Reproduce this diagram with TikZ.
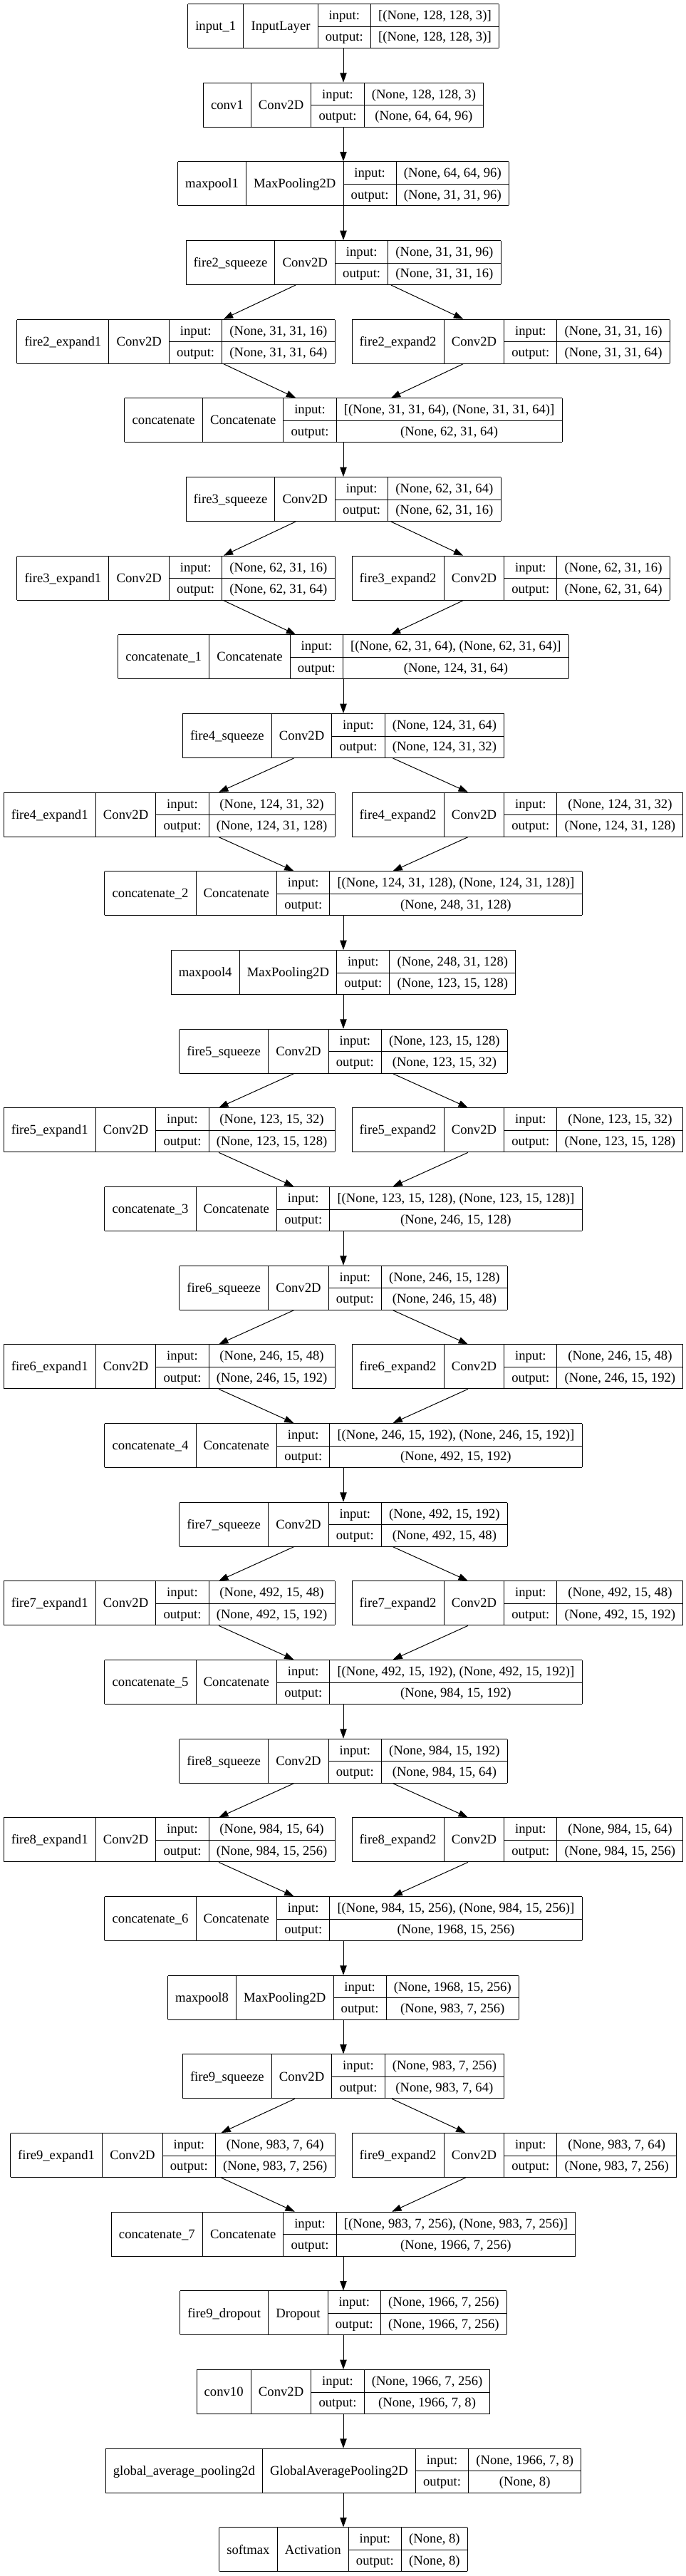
\documentclass[tikz,border=0pt]{standalone}
\usepackage{fontspec}
\setmainfont{Liberation Serif}
\usepackage{multirow}
\usetikzlibrary{arrows.meta,positioning}
\setlength{\tabcolsep}{8pt}
\setlength{\arrayrulewidth}{0.75pt}
% one record: name | class | input:/output: | shapes
\newcommand{\rec}[4]{\begin{tabular}{|c|c|c|c|}\hline
\multirow{2}{*}{#1} & \multirow{2}{*}{#2} & input: & #3\\ \cline{3-4}
 & & output: & #4\\ \hline
\end{tabular}}
\tikzstyle{layer} = [inner sep=0pt, outer sep=0pt, font=\fontsize{14}{22.875}\selectfont]
\tikzstyle{arrow} = [->, >={Triangle[length=10pt,width=7pt]}, line width=0.75pt]

\begin{document}
\begin{tikzpicture}[x=1pt, y=-1pt, node distance=83pt]
\useasboundingbox (0,0) rectangle (722.25,2711.25);
% Stem
\node (input_1) [layer] at (361.5,27.4) {\rec{input\_1}{InputLayer}{[(None, 128, 128, 3)]}{[(None, 128, 128, 3)]}};
\node (conv1) [layer, below of=input_1] {\rec{conv1}{Conv2D}{(None, 128, 128, 3)}{(None, 64, 64, 96)}};
\node (maxpool1) [layer, below of=conv1] {\rec{maxpool1}{MaxPooling2D}{(None, 64, 64, 96)}{(None, 31, 31, 96)}};

% Fire 2
\node (fire2_squeeze) [layer, below of=maxpool1] {\rec{fire2\_squeeze}{Conv2D}{(None, 31, 31, 96)}{(None, 31, 31, 16)}};
\node (fire2_expand1) [layer, below of=fire2_squeeze, xshift=-9pt, anchor=east] {\rec{fire2\_expand1}{Conv2D}{(None, 31, 31, 16)}{(None, 31, 31, 64)}};
\node (fire2_expand2) [layer, below of=fire2_squeeze, xshift=9pt, anchor=west] {\rec{fire2\_expand2}{Conv2D}{(None, 31, 31, 16)}{(None, 31, 31, 64)}};
\node (concatenate) [layer, below of=fire2_squeeze, yshift=-83pt] {\rec{concatenate}{Concatenate}{[(None, 31, 31, 64), (None, 31, 31, 64)]}{(None, 62, 31, 64)}};

% Fire 3
\node (fire3_squeeze) [layer, below of=concatenate] {\rec{fire3\_squeeze}{Conv2D}{(None, 62, 31, 64)}{(None, 62, 31, 16)}};
\node (fire3_expand1) [layer, below of=fire3_squeeze, xshift=-9pt, anchor=east] {\rec{fire3\_expand1}{Conv2D}{(None, 62, 31, 16)}{(None, 62, 31, 64)}};
\node (fire3_expand2) [layer, below of=fire3_squeeze, xshift=9pt, anchor=west] {\rec{fire3\_expand2}{Conv2D}{(None, 62, 31, 16)}{(None, 62, 31, 64)}};
\node (concatenate_1) [layer, below of=fire3_squeeze, yshift=-83pt] {\rec{concatenate\_1}{Concatenate}{[(None, 62, 31, 64), (None, 62, 31, 64)]}{(None, 124, 31, 64)}};

% Fire 4
\node (fire4_squeeze) [layer, below of=concatenate_1] {\rec{fire4\_squeeze}{Conv2D}{(None, 124, 31, 64)}{(None, 124, 31, 32)}};
\node (fire4_expand1) [layer, below of=fire4_squeeze, xshift=-9pt, anchor=east] {\rec{fire4\_expand1}{Conv2D}{(None, 124, 31, 32)}{(None, 124, 31, 128)}};
\node (fire4_expand2) [layer, below of=fire4_squeeze, xshift=9pt, anchor=west] {\rec{fire4\_expand2}{Conv2D}{(None, 124, 31, 32)}{(None, 124, 31, 128)}};
\node (concatenate_2) [layer, below of=fire4_squeeze, yshift=-83pt] {\rec{concatenate\_2}{Concatenate}{[(None, 124, 31, 128), (None, 124, 31, 128)]}{(None, 248, 31, 128)}};
\node (maxpool4) [layer, below of=concatenate_2] {\rec{maxpool4}{MaxPooling2D}{(None, 248, 31, 128)}{(None, 123, 15, 128)}};

% Fire 5
\node (fire5_squeeze) [layer, below of=maxpool4] {\rec{fire5\_squeeze}{Conv2D}{(None, 123, 15, 128)}{(None, 123, 15, 32)}};
\node (fire5_expand1) [layer, below of=fire5_squeeze, xshift=-9pt, anchor=east] {\rec{fire5\_expand1}{Conv2D}{(None, 123, 15, 32)}{(None, 123, 15, 128)}};
\node (fire5_expand2) [layer, below of=fire5_squeeze, xshift=9pt, anchor=west] {\rec{fire5\_expand2}{Conv2D}{(None, 123, 15, 32)}{(None, 123, 15, 128)}};
\node (concatenate_3) [layer, below of=fire5_squeeze, yshift=-83pt] {\rec{concatenate\_3}{Concatenate}{[(None, 123, 15, 128), (None, 123, 15, 128)]}{(None, 246, 15, 128)}};

% Fire 6
\node (fire6_squeeze) [layer, below of=concatenate_3] {\rec{fire6\_squeeze}{Conv2D}{(None, 246, 15, 128)}{(None, 246, 15, 48)}};
\node (fire6_expand1) [layer, below of=fire6_squeeze, xshift=-9pt, anchor=east] {\rec{fire6\_expand1}{Conv2D}{(None, 246, 15, 48)}{(None, 246, 15, 192)}};
\node (fire6_expand2) [layer, below of=fire6_squeeze, xshift=9pt, anchor=west] {\rec{fire6\_expand2}{Conv2D}{(None, 246, 15, 48)}{(None, 246, 15, 192)}};
\node (concatenate_4) [layer, below of=fire6_squeeze, yshift=-83pt] {\rec{concatenate\_4}{Concatenate}{[(None, 246, 15, 192), (None, 246, 15, 192)]}{(None, 492, 15, 192)}};

% Fire 7
\node (fire7_squeeze) [layer, below of=concatenate_4] {\rec{fire7\_squeeze}{Conv2D}{(None, 492, 15, 192)}{(None, 492, 15, 48)}};
\node (fire7_expand1) [layer, below of=fire7_squeeze, xshift=-9pt, anchor=east] {\rec{fire7\_expand1}{Conv2D}{(None, 492, 15, 48)}{(None, 492, 15, 192)}};
\node (fire7_expand2) [layer, below of=fire7_squeeze, xshift=9pt, anchor=west] {\rec{fire7\_expand2}{Conv2D}{(None, 492, 15, 48)}{(None, 492, 15, 192)}};
\node (concatenate_5) [layer, below of=fire7_squeeze, yshift=-83pt] {\rec{concatenate\_5}{Concatenate}{[(None, 492, 15, 192), (None, 492, 15, 192)]}{(None, 984, 15, 192)}};

% Fire 8
\node (fire8_squeeze) [layer, below of=concatenate_5] {\rec{fire8\_squeeze}{Conv2D}{(None, 984, 15, 192)}{(None, 984, 15, 64)}};
\node (fire8_expand1) [layer, below of=fire8_squeeze, xshift=-9pt, anchor=east] {\rec{fire8\_expand1}{Conv2D}{(None, 984, 15, 64)}{(None, 984, 15, 256)}};
\node (fire8_expand2) [layer, below of=fire8_squeeze, xshift=9pt, anchor=west] {\rec{fire8\_expand2}{Conv2D}{(None, 984, 15, 64)}{(None, 984, 15, 256)}};
\node (concatenate_6) [layer, below of=fire8_squeeze, yshift=-83pt] {\rec{concatenate\_6}{Concatenate}{[(None, 984, 15, 256), (None, 984, 15, 256)]}{(None, 1968, 15, 256)}};
\node (maxpool8) [layer, below of=concatenate_6] {\rec{maxpool8}{MaxPooling2D}{(None, 1968, 15, 256)}{(None, 983, 7, 256)}};

% Fire 9
\node (fire9_squeeze) [layer, below of=maxpool8] {\rec{fire9\_squeeze}{Conv2D}{(None, 983, 7, 256)}{(None, 983, 7, 64)}};
\node (fire9_expand1) [layer, below of=fire9_squeeze, xshift=-9pt, anchor=east] {\rec{fire9\_expand1}{Conv2D}{(None, 983, 7, 64)}{(None, 983, 7, 256)}};
\node (fire9_expand2) [layer, below of=fire9_squeeze, xshift=9pt, anchor=west] {\rec{fire9\_expand2}{Conv2D}{(None, 983, 7, 64)}{(None, 983, 7, 256)}};
\node (concatenate_7) [layer, below of=fire9_squeeze, yshift=-83pt] {\rec{concatenate\_7}{Concatenate}{[(None, 983, 7, 256), (None, 983, 7, 256)]}{(None, 1966, 7, 256)}};

% Head
\node (fire9_dropout) [layer, below of=concatenate_7] {\rec{fire9\_dropout}{Dropout}{(None, 1966, 7, 256)}{(None, 1966, 7, 256)}};
\node (conv10) [layer, below of=fire9_dropout] {\rec{conv10}{Conv2D}{(None, 1966, 7, 256)}{(None, 1966, 7, 8)}};
\node (global_average_pooling2d) [layer, below of=conv10] {\rec{global\_average\_pooling2d}{GlobalAveragePooling2D}{(None, 1966, 7, 8)}{(None, 8)}};
\node (softmax) [layer, below of=global_average_pooling2d] {\rec{softmax}{Activation}{(None, 8)}{(None, 8)}};

% Arrows
\draw[arrow] (input_1) -- (conv1);
\draw[arrow] (conv1) -- (maxpool1);
\draw[arrow] (maxpool1) -- (fire2_squeeze);
\draw[arrow] (fire2_squeeze) -- (fire2_expand1);
\draw[arrow] (fire2_squeeze) -- (fire2_expand2);
\draw[arrow] (fire2_expand1) -- (concatenate);
\draw[arrow] (fire2_expand2) -- (concatenate);
\draw[arrow] (concatenate) -- (fire3_squeeze);
\draw[arrow] (fire3_squeeze) -- (fire3_expand1);
\draw[arrow] (fire3_squeeze) -- (fire3_expand2);
\draw[arrow] (fire3_expand1) -- (concatenate_1);
\draw[arrow] (fire3_expand2) -- (concatenate_1);
\draw[arrow] (concatenate_1) -- (fire4_squeeze);
\draw[arrow] (fire4_squeeze) -- (fire4_expand1);
\draw[arrow] (fire4_squeeze) -- (fire4_expand2);
\draw[arrow] (fire4_expand1) -- (concatenate_2);
\draw[arrow] (fire4_expand2) -- (concatenate_2);
\draw[arrow] (concatenate_2) -- (maxpool4);
\draw[arrow] (maxpool4) -- (fire5_squeeze);
\draw[arrow] (fire5_squeeze) -- (fire5_expand1);
\draw[arrow] (fire5_squeeze) -- (fire5_expand2);
\draw[arrow] (fire5_expand1) -- (concatenate_3);
\draw[arrow] (fire5_expand2) -- (concatenate_3);
\draw[arrow] (concatenate_3) -- (fire6_squeeze);
\draw[arrow] (fire6_squeeze) -- (fire6_expand1);
\draw[arrow] (fire6_squeeze) -- (fire6_expand2);
\draw[arrow] (fire6_expand1) -- (concatenate_4);
\draw[arrow] (fire6_expand2) -- (concatenate_4);
\draw[arrow] (concatenate_4) -- (fire7_squeeze);
\draw[arrow] (fire7_squeeze) -- (fire7_expand1);
\draw[arrow] (fire7_squeeze) -- (fire7_expand2);
\draw[arrow] (fire7_expand1) -- (concatenate_5);
\draw[arrow] (fire7_expand2) -- (concatenate_5);
\draw[arrow] (concatenate_5) -- (fire8_squeeze);
\draw[arrow] (fire8_squeeze) -- (fire8_expand1);
\draw[arrow] (fire8_squeeze) -- (fire8_expand2);
\draw[arrow] (fire8_expand1) -- (concatenate_6);
\draw[arrow] (fire8_expand2) -- (concatenate_6);
\draw[arrow] (concatenate_6) -- (maxpool8);
\draw[arrow] (maxpool8) -- (fire9_squeeze);
\draw[arrow] (fire9_squeeze) -- (fire9_expand1);
\draw[arrow] (fire9_squeeze) -- (fire9_expand2);
\draw[arrow] (fire9_expand1) -- (concatenate_7);
\draw[arrow] (fire9_expand2) -- (concatenate_7);
\draw[arrow] (concatenate_7) -- (fire9_dropout);
\draw[arrow] (fire9_dropout) -- (conv10);
\draw[arrow] (conv10) -- (global_average_pooling2d);
\draw[arrow] (global_average_pooling2d) -- (softmax);
\end{tikzpicture}
\end{document}
